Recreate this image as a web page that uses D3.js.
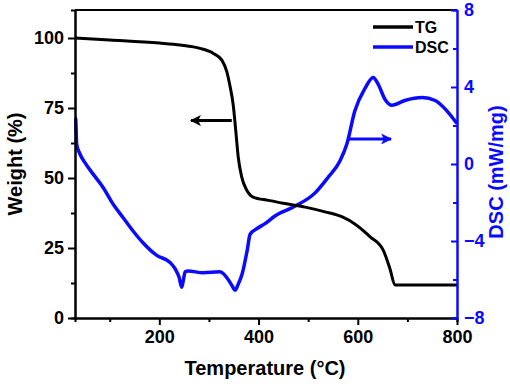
<!DOCTYPE html>
<html>
<head>
<meta charset="utf-8">
<script src="https://cdn.jsdelivr.net/npm/d3@7"></script>
<style>
  body { margin: 0; background: #fff; }
  text { font-family: "Liberation Sans", Arial, sans-serif; font-weight: bold; }
</style>
</head>
<body>
<div id="canvas"></div>
<script>
"use strict";

// Canvas setup
let svgWidth = 510;
let svgHeight = 384;
let margin = { top: 10, right: 53, bottom: 66, left: 75 };
let chartWidth = svgWidth - margin.left - margin.right;
let chartHeight = svgHeight - margin.top - margin.bottom;
let dscBlue = "#0a0aff";

// Data
// TG curve: temperature (°C) and weight (%)
let tgTemp = [30, 100, 200, 242, 282, 309, 326, 336, 342, 349, 354, 359, 366, 376, 389, 420, 459, 494, 534, 570, 594, 625, 651, 665, 675, 800];
let tgWeight = [100, 99.3, 98.2, 97.5, 96.3, 94.5, 92.1, 88, 83.2, 76, 67, 57.5, 50.4, 45.7, 43.2, 42, 40.7, 39.6, 37.9, 36, 33.6, 29, 24.3, 17.5, 11.8, 11.8];

// DSC curve: temperature (°C) and heat flow (mW/mg)
let dscTemp = [30, 31.4, 33.4, 40, 50, 67, 87, 107, 127, 147, 167, 195, 221, 232, 240, 245, 248, 252, 258, 288, 322, 338, 346, 353, 358, 367, 377, 383, 397, 413, 433, 473, 514, 540, 564, 578, 594, 615, 631, 641, 655, 669, 695, 730, 756, 780, 800];
let dscValue = [2.4, 2.34, 1.02, 0.52, 0.07, -0.54, -1.23, -2.09, -2.79, -3.48, -4.09, -4.75, -5.1, -5.45, -5.9, -6.4, -6.1, -5.6, -5.56, -5.65, -5.6, -5.97, -6.3, -6.55, -6.3, -5.7, -4.5, -3.65, -3.35, -3.1, -2.7, -2.2, -1.5, -0.7, 0.15, 1.04, 2.75, 3.95, 4.5, 4.15, 3.35, 3.05, 3.3, 3.45, 3.3, 2.75, 2.1];

// Ticks
let xTicks = [200, 400, 600, 800];
let xMinor = [100, 300, 500, 700];
let yTicks = [0, 25, 50, 75, 100];
let yMinor = [12.5, 37.5, 62.5, 87.5];
let y2Ticks = [-8, -4, 0, 4, 8];
let y2Minor = [-6, -2, 2, 6];

let legendNames = ["TG", "DSC"];

let svg = d3.select("#canvas")
  .append("svg")
  .attr("width", svgWidth)
  .attr("height", svgHeight);

let chartArea = svg.append("g")
  .attr("transform", "translate(" + margin.left + "," + margin.top + ")");

// Scales
let xScale = d3.scaleLinear().domain([30, 800]).range([0, chartWidth]);
let yScale = d3.scaleLinear().domain([0, 110]).range([chartHeight, 0]);
let y2Scale = d3.scaleLinear().domain([-8, 8]).range([chartHeight, 0]);

// Curves
let tgData = tgTemp.map(function(t, i){ return { t: t, v: tgWeight[i] }; });
let dscData = dscTemp.map(function(t, i){ return { t: t, v: dscValue[i] }; });

chartArea.append("path")
  .datum(dscData)
  .attr("fill", "none")
  .attr("stroke", dscBlue)
  .attr("stroke-width", 3.5)
  .attr("stroke-linejoin", "round")
  .attr("d", d3.line()
    .x(function(d){ return xScale(d.t); })
    .y(function(d){ return y2Scale(d.v); })
    .curve(d3.curveMonotoneX));

chartArea.append("path")
  .datum(tgData)
  .attr("fill", "none")
  .attr("stroke", "#000")
  .attr("stroke-width", 3)
  .attr("stroke-linejoin", "round")
  .attr("d", d3.line()
    .x(function(d){ return xScale(d.t); })
    .y(function(d){ return yScale(d.v); })
    .curve(d3.curveMonotoneX));

// Axes
function styleAxis(g, color) {
  g.select(".domain").attr("stroke", color).attr("stroke-width", 2);
  g.selectAll(".tick line").attr("stroke", color).attr("stroke-width", 2);
  g.selectAll(".tick text")
    .attr("fill", color)
    .style("font-size", "18px")
    .style("font-family", "'Liberation Sans', Arial, sans-serif")
    .style("font-weight", "bold");
}

// top border
chartArea.append("line")
  .attr("x1", 0).attr("x2", chartWidth)
  .attr("y1", 0).attr("y2", 0)
  .attr("stroke", "#000").attr("stroke-width", 2);

// bottom
chartArea.append("g")
  .attr("transform", "translate(0," + chartHeight + ")")
  .call(d3.axisBottom(xScale).tickValues(xMinor).tickSize(4).tickFormat(""))
  .call(function(g){ styleAxis(g, "#000"); });
chartArea.append("g")
  .attr("transform", "translate(0," + chartHeight + ")")
  .call(d3.axisBottom(xScale).tickValues(xTicks).tickSize(7).tickSizeOuter(0).tickPadding(5))
  .call(function(g){ styleAxis(g, "#000"); });

// left
chartArea.append("g")
  .call(d3.axisLeft(yScale).tickValues(yMinor).tickSize(4).tickFormat(""))
  .call(function(g){ styleAxis(g, "#000"); });
chartArea.append("g")
  .call(d3.axisLeft(yScale).tickValues(yTicks).tickSize(7).tickSizeOuter(0).tickPadding(4))
  .call(function(g){ styleAxis(g, "#000"); });

// right (ticks point inward)
let rightAxis = chartArea.append("g")
  .attr("transform", "translate(" + chartWidth + ",0)");
rightAxis.append("g")
  .call(d3.axisRight(y2Scale).tickValues(y2Minor).tickSize(-4).tickFormat(""))
  .call(function(g){ styleAxis(g, dscBlue); });
rightAxis.append("g")
  .call(d3.axisRight(y2Scale).tickValues(y2Ticks).tickSize(-6).tickSizeOuter(0).tickPadding(0))
  .call(function(g){ styleAxis(g, dscBlue); })
  .call(function(g){ g.selectAll(".tick text").attr("x", 7); });

// Arrows
let defs = svg.append("defs");
[["headBlack", "#000"], ["headBlue", dscBlue]].forEach(function(m){
  defs.append("marker")
    .attr("id", m[0])
    .attr("viewBox", "0 0 10 10")
    .attr("refX", 9).attr("refY", 5)
    .attr("markerUnits", "userSpaceOnUse")
    .attr("markerWidth", 16).attr("markerHeight", 11)
    .attr("orient", "auto")
    .append("path")
    .attr("d", "M0,0 L10,5 L0,10 L2.5,5 Z")
    .attr("fill", m[1]);
});

chartArea.append("line")
  .attr("x1", xScale(346)).attr("x2", xScale(264))
  .attr("y1", yScale(70.5)).attr("y2", yScale(70.5))
  .attr("stroke", "#000").attr("stroke-width", 3)
  .attr("marker-end", "url(#headBlack)");

chartArea.append("line")
  .attr("x1", xScale(582)).attr("x2", xScale(667))
  .attr("y1", y2Scale(1.3)).attr("y2", y2Scale(1.3))
  .attr("stroke", dscBlue).attr("stroke-width", 3)
  .attr("marker-end", "url(#headBlue)");

// Legend
let legendColors = ["#000", dscBlue];
let legend = svg.append("g").attr("transform", "translate(373,27)");
legendNames.forEach(function(name, i){
  legend.append("line")
    .attr("x1", 0).attr("x2", 40)
    .attr("y1", i * 20).attr("y2", i * 20)
    .attr("stroke", legendColors[i]).attr("stroke-width", 3.5);
  legend.append("text")
    .attr("x", 42).attr("y", i * 20 + 6)
    .style("font-size", "16px")
    .attr("fill", "#000")
    .text(name);
});

// Axis titles
svg.append("text")
  .attr("x", margin.left + chartWidth / 2 - 1)
  .attr("y", 375)
  .attr("text-anchor", "middle")
  .style("font-size", "20px")
  .text("Temperature (°C)");

svg.append("text")
  .attr("transform", "translate(22," + (margin.top + chartHeight / 2) + ") rotate(-90)")
  .attr("text-anchor", "middle")
  .style("font-size", "20px")
  .text("Weight (%)");

svg.append("text")
  .attr("transform", "translate(503," + (margin.top + chartHeight / 2 + 8) + ") rotate(-90)")
  .attr("text-anchor", "middle")
  .attr("fill", dscBlue)
  .style("font-size", "20px")
  .text("DSC (mW/mg)");
</script>
</body>
</html>
